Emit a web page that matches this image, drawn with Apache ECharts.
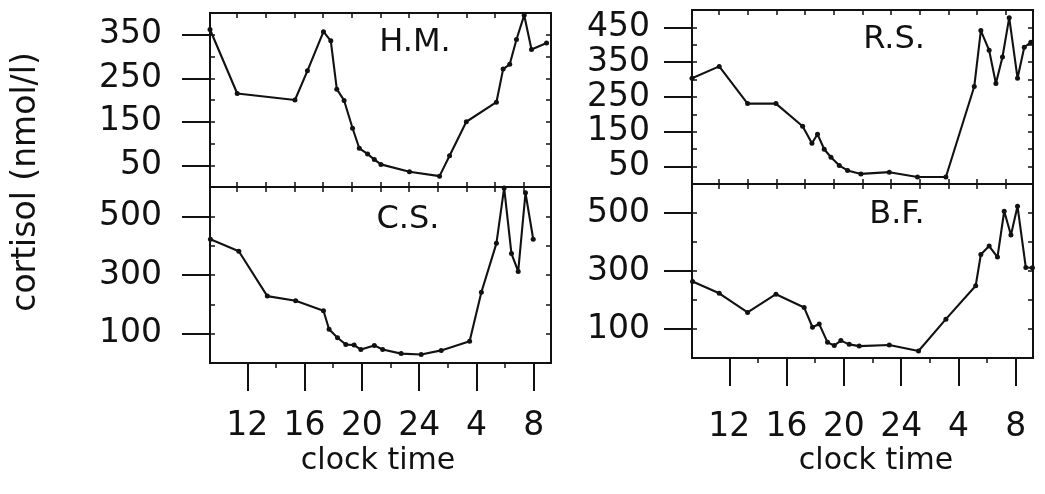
<!DOCTYPE html>
<html>
<head>
<meta charset="utf-8">
<script src="https://cdn.jsdelivr.net/npm/echarts@6/dist/echarts.min.js"></script>
<style>
html,body{margin:0;padding:0;background:#fff;}
#chart{width:1045px;height:494px;}
</style>
</head>
<body>
<div id="chart"></div>
<script>
// ---- data (clock time in hours, after midnight continues 25..33) ----
const clockTicks = [12, 16, 20, 24, 28, 32];
const halfTicks = [14, 18, 22, 26, 30];
const sampleTicks = [11.3, 13.3, 15.3, 17.3, 19.3, 21.3, 23.3, 25.3, 27.3, 29.3, 31.3];

const hmTime = [9.4, 11.3, 15.33, 16.2, 17.32, 17.83, 18.25, 18.76, 19.35, 19.82, 20.4, 20.87, 21.33, 23.32, 25.42, 26.12, 27.29, 29.39, 29.86, 30.32, 30.79, 31.33, 31.84, 32.89];
const hmCortisol = [362, 215, 200, 267, 357, 336, 225, 199, 135, 89, 76, 63, 52, 35, 25, 72, 150, 195, 271, 282, 339, 395, 316, 331];

const csTime = [9.43, 11.41, 13.4, 15.38, 17.32, 17.71, 18.3, 18.88, 19.46, 19.93, 20.87, 21.45, 22.74, 24.14, 25.54, 27.52, 28.34, 29.39, 29.93, 30.44, 30.91, 31.42, 31.96];
const csCortisol = [422, 381, 228, 212, 178, 115, 86, 63, 61, 46, 60, 46, 32, 29, 43, 74, 241, 408, 597, 373, 312, 580, 422];

const rsTime = [9.4, 11.3, 13.28, 15.26, 17.12, 17.77, 18.16, 18.63, 19.1, 19.68, 20.26, 21.19, 23.17, 25.14, 27.12, 29.1, 29.56, 30.14, 30.61, 31.07, 31.54, 32.12, 32.59, 33.05];
const rsCortisol = [304, 338, 231, 231, 166, 117, 143, 100, 77, 53, 39, 29, 34, 20, 20, 280, 441, 384, 289, 365, 478, 304, 393, 407];

const bfTime = [9.44, 11.3, 13.28, 15.26, 17.23, 17.81, 18.28, 18.86, 19.33, 19.79, 20.37, 21.07, 23.17, 25.21, 27.12, 29.2, 29.56, 30.14, 30.72, 31.19, 31.66, 32.12, 32.7, 33.16];
const bfCortisol = [264, 223, 157, 220, 174, 106, 117, 54, 43, 60, 47, 41, 45, 24, 134, 249, 357, 386, 348, 506, 424, 523, 312, 311];

const hmYLabels = [50, 150, 250, 350];
const csYLabels = [100, 300, 500];
const rsYLabels = [50, 150, 250, 350, 450];
const bfYLabels = [100, 300, 500];

const panelNames = ['H.M.', 'C.S.', 'R.S.', 'B.F.'];
const xTitle = 'clock time';
const yTitle = 'cortisol (nmol/l)';

// ---- layout ----
const X_MIN = 9.4, X_MAX = 33.2;
const FONT = 'DejaVu Sans';
const INK = '#111';

const panels = [
  {name: panelNames[0], time: hmTime, vals: hmCortisol, yMax: 400, yLabels: hmYLabels, yStep: 50,
   grid: {left: 210, top: 13, width: 341, height: 174}, bottom: false, labelMargin: 48, nameXY: [415, 43]},
  {name: panelNames[1], time: csTime, vals: csCortisol, yMax: 600, yLabels: csYLabels, yStep: 100,
   grid: {left: 210, top: 187, width: 341, height: 176}, bottom: true, labelMargin: 48, xLabelMargin: 47, nameXY: [408, 220]},
  {name: panelNames[2], time: rsTime, vals: rsCortisol, yMax: 500, yLabels: rsYLabels, yStep: 50,
   grid: {left: 692, top: 10, width: 341, height: 174}, bottom: false, labelMargin: 42, nameXY: [894, 40]},
  {name: panelNames[3], time: bfTime, vals: bfCortisol, yMax: 600, yLabels: bfYLabels, yStep: 100,
   grid: {left: 692, top: 184, width: 341, height: 174}, bottom: true, labelMargin: 42, xLabelMargin: 53, nameXY: [897, 215]}
];

const grids = [], xAxes = [], yAxes = [], series = [], graphics = [];
const lineStyle = {color: INK, width: 2};

panels.forEach((p, i) => {
  grids.push(Object.assign({show: true, borderColor: INK, borderWidth: 1.5, containLabel: false, outerBoundsMode: 'none'}, p.grid));
  const baseX = {type: 'value', gridIndex: i, min: X_MIN, max: X_MAX, splitLine: {show: false}, axisLine: {show: true, onZero: false, lineStyle: lineStyle}};
  const mainXIndex = xAxes.length;
  if (p.bottom) {
    xAxes.push(Object.assign({}, baseX, {
      position: 'bottom',
      axisTick: {show: true, inside: false, length: 28, customValues: clockTicks, lineStyle: {color: INK, width: 2}},
      axisLabel: {show: true, customValues: clockTicks, margin: p.xLabelMargin, color: INK, fontFamily: FONT, fontSize: 33,
                  formatter: v => String(v > 24 ? v - 24 : v)}
    }));
    xAxes.push(Object.assign({}, baseX, {
      position: 'bottom', axisLine: {show: false, onZero: false},
      axisTick: {show: true, inside: false, length: 5, customValues: halfTicks, lineStyle: {color: INK, width: 1.5}},
      axisLabel: {show: false}
    }));
  } else {
    xAxes.push(Object.assign({}, baseX, {
      position: 'bottom',
      axisTick: {show: true, inside: true, length: 5, customValues: sampleTicks, lineStyle: {color: INK, width: 1.5}},
      axisLabel: {show: false}
    }));
  }
  xAxes.push(Object.assign({}, baseX, {
    position: 'top',
    axisTick: {show: true, inside: true, length: 5, customValues: sampleTicks, lineStyle: {color: INK, width: 1.5}},
    axisLabel: {show: false}
  }));

  const minorY = [];
  for (let v = p.yStep; v < p.yMax; v += p.yStep) minorY.push(v);
  const baseY = {type: 'value', gridIndex: i, min: 0, max: p.yMax, splitLine: {show: false}, axisLine: {show: true, onZero: false, lineStyle: lineStyle}};
  const mainYIndex = yAxes.length;
  yAxes.push(Object.assign({}, baseY, {
    position: 'left',
    axisTick: {show: true, inside: false, length: 28, customValues: p.yLabels, lineStyle: {color: INK, width: 2}},
    axisLabel: {show: true, customValues: p.yLabels, margin: p.labelMargin, color: INK, fontFamily: FONT, fontSize: 33}
  }));
  yAxes.push(Object.assign({}, baseY, {
    position: 'left', axisLine: {show: false, onZero: false},
    axisTick: {show: true, inside: true, length: 5, customValues: minorY, lineStyle: {color: INK, width: 1.5}},
    axisLabel: {show: false}
  }));
  yAxes.push(Object.assign({}, baseY, {
    position: 'right',
    axisTick: {show: true, inside: true, length: 5, customValues: minorY, lineStyle: {color: INK, width: 1.5}},
    axisLabel: {show: false}
  }));

  series.push({
    type: 'line', name: p.name, xAxisIndex: mainXIndex, yAxisIndex: mainYIndex,
    data: p.time.map((t, k) => [t, p.vals[k]]),
    lineStyle: {color: INK, width: 2.1},
    itemStyle: {color: INK},
    symbol: 'circle', symbolSize: 5, showSymbol: true,
    animation: false, clip: false
  });

  graphics.push({type: 'text', x: p.nameXY[0], y: p.nameXY[1],
    style: {text: p.name, fill: INK, font: '32px "' + FONT + '"', align: 'center', verticalAlign: 'middle'}});
});

graphics.push({type: 'text', x: 378, y: 461,
  style: {text: xTitle, fill: INK, font: '30px "' + FONT + '"', align: 'center', verticalAlign: 'middle'}});
graphics.push({type: 'text', x: 876, y: 461,
  style: {text: xTitle, fill: INK, font: '30px "' + FONT + '"', align: 'center', verticalAlign: 'middle'}});
graphics.push({type: 'text', x: 26, y: 182, rotation: Math.PI / 2,
  style: {text: yTitle, fill: INK, font: '33px "' + FONT + '"', align: 'center', verticalAlign: 'middle'}});

const chart = echarts.init(document.getElementById('chart'), null, {renderer: 'canvas'});
chart.setOption({
  backgroundColor: '#fff',
  animation: false,
  grid: grids,
  xAxis: xAxes,
  yAxis: yAxes,
  series: series,
  graphic: graphics
});
</script>
</body>
</html>
